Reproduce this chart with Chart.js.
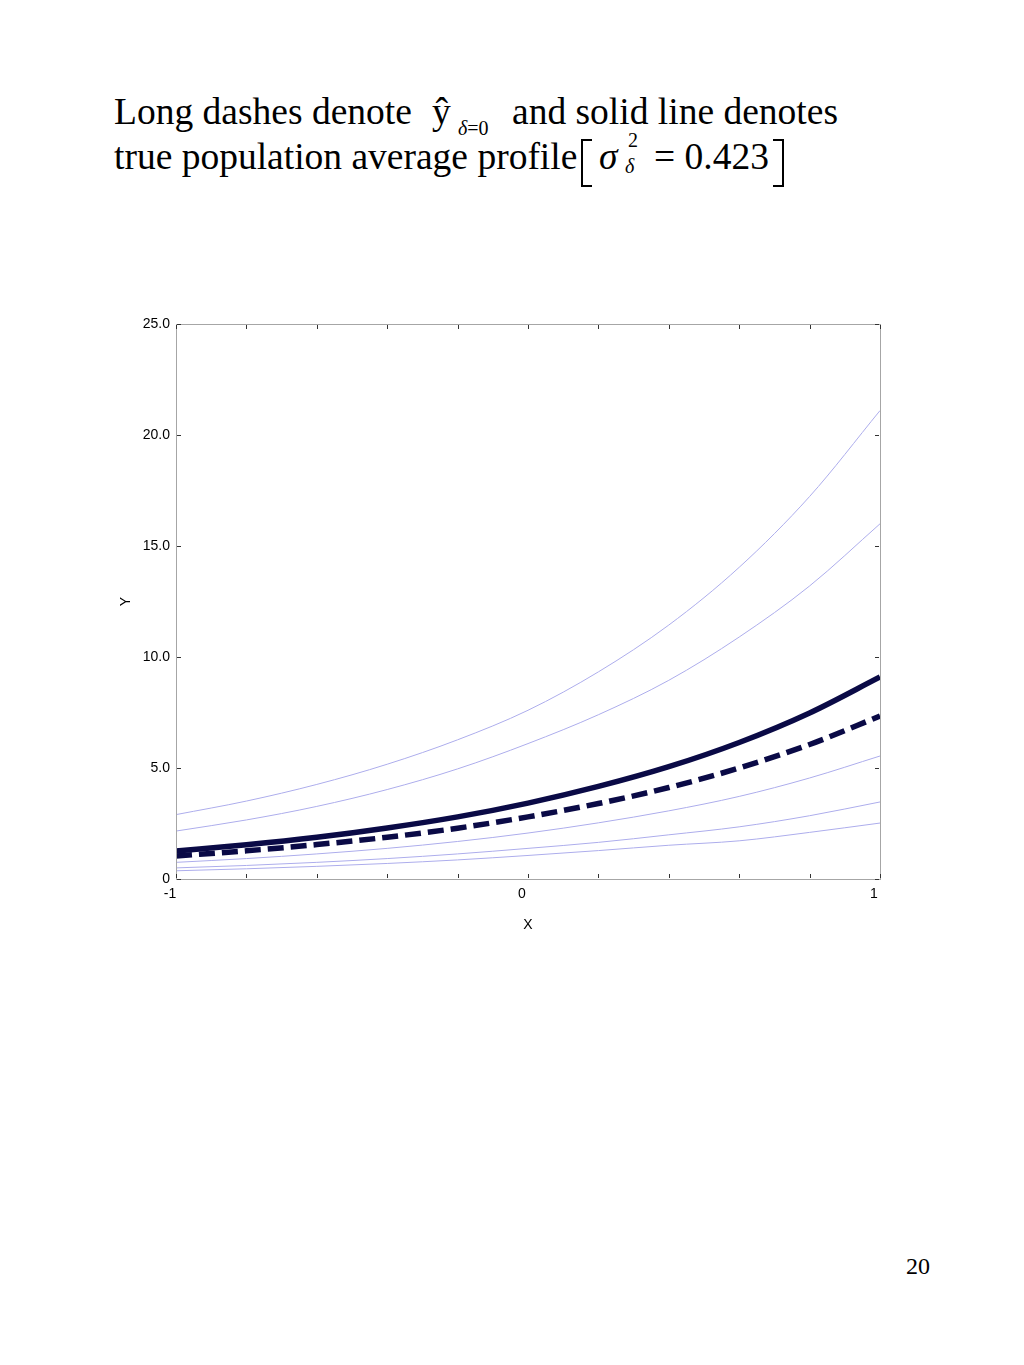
<!DOCTYPE html>
<html>
<head>
<meta charset="utf-8">
<script src="https://cdn.jsdelivr.net/npm/chart.js@4/dist/chart.umd.min.js"></script>
<style>
    html, body { margin: 0; padding: 0; background: #fff; }
    body { width: 1024px; height: 1365px; position: relative; overflow: hidden; }
    .t { position: absolute; font-family: "Liberation Serif", "Times New Roman", serif; color: #000; white-space: nowrap; line-height: 36px; font-size: 37.5px; }
    .s { font-size: 20px; line-height: 20px; }
    .i { font-style: italic; }
    .brl { position: absolute; border: 2px solid #000; border-right: none; width: 9px; }
    .brr { position: absolute; border: 2px solid #000; border-left: none; width: 9px; }
    #wrap { position: absolute; left: 0; top: 300px; width: 1024px; height: 650px; }
</style>
</head>
<body>
<div class="t" style="left:114px;top:94px;">Long dashes denote</div>
<div class="t" style="left:432px;top:94px;">ŷ</div>
<div class="t s" style="left:458px;top:118px;"><span class="i">δ</span>=0</div>
<div class="t" style="left:512px;top:94px;">and solid line denotes</div>
<div class="t" style="left:114px;top:139px;">true population average profile</div>
<div class="brl" style="left:581px;top:139px;height:44px;"></div>
<div class="t i" style="left:599px;top:139px;">σ</div>
<div class="t s" style="left:628px;top:130px;">2</div>
<div class="t s i" style="left:625px;top:156px;">δ</div>
<div class="t" style="left:654px;top:139px;">= 0.423</div>
<div class="brr" style="left:773px;top:139px;height:44px;"></div>
<div class="t" style="left:906px;top:1254px;font-size:24px;line-height:24px;">20</div>

<div id="wrap"><canvas id="chart"></canvas></div>

<script>
var xValues = [-1, -0.8, -0.6, -0.4, -0.2, 0, 0.2, 0.4, 0.6, 0.8, 1];

var profileHigh1 = [2.9, 3.51, 4.26, 5.17, 6.27, 7.6, 9.33, 11.44, 14.04, 17.23, 21.1];
var profileHigh2 = [2.16, 2.66, 3.27, 4.03, 4.96, 6.1, 7.4, 8.95, 10.9, 13.2, 16.0];
var trueAverage = [1.26, 1.54, 1.88, 2.30, 2.80, 3.42, 4.17, 5.06, 6.15, 7.48, 9.1];
var yHatZero = [1.04, 1.27, 1.55, 1.88, 2.29, 2.8, 3.40, 4.12, 5.0, 6.06, 7.34];
var profileLow1 = [0.75, 0.92, 1.13, 1.38, 1.69, 2.07, 2.53, 3.07, 3.72, 4.55, 5.54];
var profileLow2 = [0.5, 0.61, 0.75, 0.92, 1.13, 1.38, 1.65, 1.99, 2.35, 2.85, 3.47];
var profileLow3 = [0.37, 0.46, 0.57, 0.70, 0.86, 1.06, 1.28, 1.52, 1.72, 2.1, 2.52];

var xLabels = [-1, 0, 1];
var yMax = 25, yStep = 5;

var thinColor = "#adadec",
    darkColor = "#0a0a46",
    boxColor = "#a6a6a6";

function points(ys) {
    return xValues.map(function(x, i) { return {x: x, y: ys[i]}; });
}

function thin(ys) {
    return {data: points(ys), borderColor: thinColor, borderWidth: 1, pointRadius: 0, cubicInterpolationMode: "monotone"};
}

// box round the plot plus the small inside tick marks
var frame = {
    id: "frame",
    afterDraw: function(chart) {
        var ctx = chart.ctx, a = chart.chartArea,
            xs = chart.scales.x, ys = chart.scales.y;
        ctx.save();
        ctx.strokeStyle = boxColor;
        ctx.lineWidth = 1;
        ctx.strokeRect(Math.round(a.left) + 0.5, Math.round(a.top) + 0.5, Math.round(a.right - a.left), Math.round(a.bottom - a.top));
        ctx.strokeStyle = "#333";
        ctx.beginPath();
        xs.ticks.forEach(function(t) {
            var px = Math.round(xs.getPixelForValue(t.value)) + 0.5;
            ctx.moveTo(px, a.top + 1); ctx.lineTo(px, a.top + 5);
            ctx.moveTo(px, a.bottom - 1); ctx.lineTo(px, a.bottom - 5);
        });
        ys.ticks.forEach(function(t) {
            var py = Math.round(ys.getPixelForValue(t.value)) + 0.5;
            ctx.moveTo(a.left + 1, py); ctx.lineTo(a.left + 5, py);
            ctx.moveTo(a.right - 1, py); ctx.lineTo(a.right - 5, py);
        });
        ctx.stroke();
        ctx.restore();
    }
};

var font = {family: "'Liberation Sans', Arial, sans-serif", size: 14};

new Chart(document.getElementById("chart"), {
    type: "line",
    data: {
        datasets: [
            thin(profileHigh1),
            thin(profileHigh2),
            thin(profileLow1),
            thin(profileLow2),
            thin(profileLow3),
            {data: points(trueAverage), borderColor: darkColor, borderWidth: 5.5, pointRadius: 0, cubicInterpolationMode: "monotone"},
            {data: points(yHatZero), borderColor: darkColor, borderWidth: 5.5, borderDash: [16, 7], borderCapStyle: "butt", pointRadius: 0, cubicInterpolationMode: "monotone"}
        ]
    },
    options: {
        responsive: true,
        maintainAspectRatio: false,
        animation: false,
        layout: {padding: {left: 114, right: 144, top: 24, bottom: 12}},
        plugins: {legend: {display: false}, tooltip: {enabled: false}},
        scales: {
            x: {
                type: "linear",
                min: -1,
                max: 1,
                grid: {display: false, drawTicks: false, tickLength: 0},
                border: {display: false},
                afterFit: function(s) { s.height = 59; },
                ticks: {
                    stepSize: 0.2,
                    padding: 7,
                    labelOffset: -6,
                    maxRotation: 0,
                    autoSkip: false,
                    color: "#000",
                    font: font,
                    callback: function(v) {
                        var r = Math.round(v);
                        return (Math.abs(v - r) < 1e-6 && xLabels.indexOf(r) >= 0) ? String(r) : "";
                    }
                },
                title: {display: true, text: "X", color: "#000", font: font}
            },
            y: {
                min: 0,
                max: yMax,
                grid: {display: false, drawTicks: false, tickLength: 0},
                border: {display: false},
                afterFit: function(s) { s.width = 62; },
                ticks: {
                    stepSize: yStep,
                    padding: 6,
                    color: "#000",
                    font: font,
                    callback: function(v) { return v === 0 ? "0" : v.toFixed(1); }
                },
                title: {display: true, text: "Y", color: "#000", font: font}
            }
        }
    },
    plugins: [frame]
});
</script>
</body>
</html>
